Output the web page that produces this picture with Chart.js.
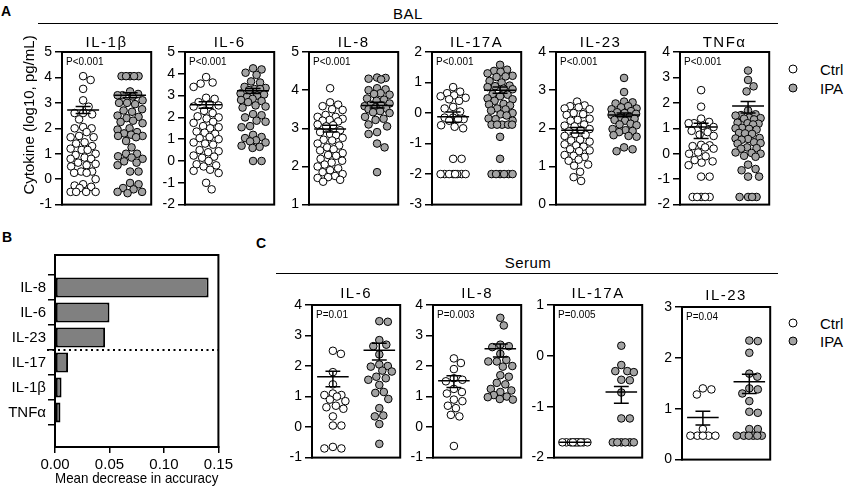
<!DOCTYPE html>
<html>
<head>
<meta charset="utf-8">
<script src="https://cdn.jsdelivr.net/npm/chart.js@4.4.1/dist/chart.umd.min.js"></script>
<style>
body { margin: 0; background: #fff; }
#fig { position: relative; width: 847px; height: 492px; overflow: hidden; font-family: 'Liberation Sans', Arial, sans-serif; color: #000; }
#fig canvas { position: absolute; }
.t { position: absolute; white-space: nowrap; line-height: 1; }
.hr { position: absolute; height: 0; border-top: 1.5px solid #000; }
.dot { position: absolute; width: 7px; height: 7px; border: 1px solid #000; border-radius: 50%; transform: translate(-50%, -50%); }
</style>
</head>
<body>
<div id="fig"></div>
<script>
// ---- A: BAL cytokines (log10 pg/mL) ----
const balNames = ['IL-1β', 'IL-6', 'IL-8', 'IL-17A', 'IL-23', 'TNFα'];
const balP = ['P<0.001', 'P<0.001', 'P<0.001', 'P<0.001', 'P<0.001', 'P<0.001'];
const balMin = [-1, -2, 1, -3, 0, -2];
const balMax = [5, 5, 5, 2, 4, 4];

const balIL1bCtrl = [4.05, 3.9, 3.55, 3.1, 2.85, 2.6, 2.6, 2.55, 2.35, 2.05, 2.0, 2.0, 1.85, 1.7, 1.65, 1.65, 1.45, 1.4, 1.3, 1.2, 1.15, 1.15, 1.0, 0.95, 0.85, 0.8, 0.8, 0.65, 0.6, 0.55, 0.5, 0.3, 0.3, 0.25, 0.25, 0.0, -0.2, -0.25, -0.3, -0.35, -0.5, -0.5, -0.5, -0.5];
const balIL1bIPA = [4.05, 4.05, 4.05, 4.05, 4.05, 3.45, 3.35, 3.3, 3.3, 3.25, 3.1, 3.0, 3.0, 2.95, 2.75, 2.7, 2.65, 2.5, 2.45, 2.4, 2.3, 2.25, 2.2, 2.0, 1.95, 1.85, 1.8, 1.75, 1.7, 1.7, 1.65, 1.5, 1.25, 1.0, 1.0, 0.9, 0.85, 0.8, 0.7, 0.65, 0.55, 0.3, 0.3, -0.15, -0.2, -0.35, -0.4, -0.5, -0.5, -0.55];
const balIL6Ctrl = [3.85, 3.6, 3.55, 3.4, 2.9, 2.85, 2.7, 2.6, 2.55, 2.5, 2.3, 2.2, 2.05, 2.0, 1.95, 1.8, 1.75, 1.6, 1.55, 1.5, 1.35, 1.3, 1.25, 1.1, 1.05, 1.0, 0.85, 0.8, 0.75, 0.5, 0.45, 0.4, 0.25, 0.2, 0.15, 0.0, -0.15, -0.2, -0.25, -0.4, -0.45, -0.55, -1.0, -1.3];
const balIL6IPA = [4.25, 4.2, 4.05, 3.95, 3.65, 3.6, 3.4, 3.35, 3.3, 3.3, 3.25, 3.1, 3.05, 3.0, 2.95, 2.85, 2.8, 2.75, 2.7, 2.55, 2.5, 2.45, 2.15, 2.1, 2.0, 1.85, 1.8, 1.6, 1.55, 1.2, 1.1, 1.05, 0.95, 0.9, 0.85, 0.7, 0.65, 0.6, 0.0, 0.0];
const balIL8Ctrl = [4.05, 3.68, 3.62, 3.58, 3.5, 3.48, 3.35, 3.3, 3.3, 3.25, 3.22, 3.2, 3.18, 3.1, 3.08, 3.05, 2.95, 2.9, 2.85, 2.82, 2.75, 2.7, 2.68, 2.6, 2.55, 2.5, 2.45, 2.42, 2.35, 2.3, 2.28, 2.2, 2.15, 2.1, 2.05, 2.0, 1.95, 1.9, 1.85, 1.8, 1.75, 1.72, 1.7, 1.65, 1.6];
const balIL8IPA = [4.33, 4.32, 4.3, 4.28, 4.05, 4.02, 4.0, 3.92, 3.9, 3.88, 3.78, 3.75, 3.72, 3.65, 3.62, 3.6, 3.58, 3.55, 3.52, 3.5, 3.45, 3.42, 3.4, 3.3, 3.25, 3.22, 3.1, 3.05, 2.9, 2.85, 2.6, 2.5, 1.85];
const balIL17Ctrl = [0.85, 0.7, 0.65, 0.58, 0.55, 0.5, 0.45, 0.4, 0.2, 0.15, 0.05, -0.15, -0.15, -0.2, -0.2, -0.25, -0.4, -0.45, -0.5, -1.5, -1.5, -2, -2, -2, -2, -2, -2, -2, -2];
const balIL17IPA = [1.58, 1.42, 1.38, 1.35, 1.3, 1.22, 1.2, 1.18, 1.05, 1.0, 0.9, 0.88, 0.85, 0.8, 0.78, 0.62, 0.6, 0.55, 0.48, 0.45, 0.4, 0.3, 0.28, 0.25, 0.15, 0.12, 0.08, 0.0, -0.04, -0.08, -0.18, -0.2, -0.25, -0.38, -0.38, -0.38, -0.38, -0.38, -0.78, -1.5, -2, -2, -2, -2, -2, -2];
const balIL23Ctrl = [2.7, 2.6, 2.58, 2.55, 2.52, 2.5, 2.4, 2.37, 2.35, 2.25, 2.22, 2.2, 2.1, 2.07, 2.05, 1.98, 1.95, 1.92, 1.85, 1.83, 1.8, 1.7, 1.68, 1.65, 1.58, 1.55, 1.52, 1.45, 1.42, 1.4, 1.3, 1.28, 1.25, 1.18, 1.15, 1.05, 1.02, 0.86, 0.72, 0.62];
const balIL23IPA = [3.32, 2.95, 2.7, 2.68, 2.65, 2.58, 2.55, 2.52, 2.5, 2.45, 2.42, 2.4, 2.38, 2.35, 2.3, 2.28, 2.25, 2.22, 2.2, 2.12, 2.1, 2.08, 1.98, 1.95, 1.93, 1.9, 1.82, 1.8, 1.78, 1.5, 1.45, 1.4];
const balTNFCtrl = [2.5, 1.85, 1.38, 1.25, 1.2, 1.2, 1.1, 1.05, 0.9, 0.85, 0.75, 0.7, 0.35, 0.33, 0.3, 0.25, 0.2, 0.05, 0.0, -0.1, -0.25, -0.3, -0.35, -0.45, -0.9, -0.9, -1.7, -1.7, -1.7, -1.7, -1.7];
const balTNFIPA = [3.27, 2.9, 2.65, 2.45, 1.7, 1.55, 1.52, 1.5, 1.42, 1.4, 1.38, 1.35, 1.22, 1.2, 1.18, 1.15, 1.02, 1.0, 0.98, 0.95, 0.82, 0.8, 0.78, 0.62, 0.6, 0.58, 0.55, 0.45, 0.42, 0.4, 0.25, 0.22, 0.2, 0.05, 0.03, 0.0, -0.08, -0.12, -0.43, -0.6, -0.65, -0.9, -0.9, -1.7, -1.7, -1.7, -1.7];

// mean and error bar ends (Ctrl, IPA)
const balMean = [[2.72, 3.3], [2.58, 3.22], [2.98, 3.6], [-0.12, 0.75], [1.95, 2.35], [1.05, 1.88]];
const balLow = [[2.58, 3.2], [2.42, 3.1], [2.9, 3.53], [-0.3, 0.65], [1.88, 2.3], [0.6, 1.6]];
const balHigh = [[2.86, 3.4], [2.72, 3.32], [3.08, 3.68], [0.03, 0.85], [2.02, 2.4], [1.2, 2.05]];

// ---- B: random forest importance ----
const featureNames = ['IL-8', 'IL-6', 'IL-23', 'IL-17', 'IL-1β', 'TNFα'];
const featureImportance = [0.141, 0.050, 0.046, 0.012, 0.006, 0.005];

// ---- C: Serum cytokines ----
const serNames = ['IL-6', 'IL-8', 'IL-17A', 'IL-23'];
const serP = ['P=0.01', 'P=0.003', 'P=0.005', 'P=0.04'];
const serMin = [-1, -1, -2, 0];
const serMax = [4, 4, 1, 3];

const serIL6Ctrl = [2.5, 2.4, 1.8, 1.4, 1.1, 1.05, 1.05, 1.0, 0.9, 0.85, 0.7, 0.65, 0.6, 0.35, 0.05, 0.05, -0.65, -0.7, -0.7];
const serIL6IPA = [3.47, 3.45, 2.85, 2.7, 2.65, 2.38, 2.05, 2.0, 1.98, 1.85, 1.82, 1.65, 1.6, 1.55, 1.38, 1.15, 1.12, 0.92, 0.62, 0.38, 0.35, 0.1, -0.55];
const serIL8Ctrl = [2.25, 2.1, 1.9, 1.6, 1.55, 1.5, 1.25, 1.15, 1.1, 0.9, 0.85, 0.7, 0.62, 0.4, 0.35, -0.62];
const serIL8IPA = [3.58, 3.33, 2.7, 2.65, 2.62, 2.4, 2.2, 2.15, 2.15, 2.0, 1.98, 1.7, 1.65, 1.45, 1.4, 1.25, 1.2, 1.15, 1.05, 1.0, 0.98, 0.92, 0.9];
const serIL17Ctrl = [-1.7, -1.7, -1.7, -1.7, -1.7, -1.7, -1.7, -1.7, -1.7, -1.7];
const serIL17IPA = [0.2, -0.18, -0.3, -0.3, -0.32, -0.48, -0.47, -0.72, -1.23, -1.23, -1.7, -1.7, -1.7, -1.7, -1.7, -1.7];
const serIL23Ctrl = [1.4, 1.38, 1.28, 0.6, 0.47, 0.47, 0.47, 0.47, 0.47];
const serIL23IPA = [2.34, 2.33, 2.1, 1.69, 1.63, 1.4, 1.38, 1.3, 1.15, 0.94, 0.92, 0.6, 0.6, 0.47, 0.47, 0.47, 0.47, 0.47, 0.47];

const serMean = [[1.65, 2.52], [1.52, 2.57], [-1.7, -0.71], [0.83, 1.53]];
const serLow = [[1.32, 2.2], [1.3, 2.3], [-1.7, -0.93], [0.68, 1.3]];
const serHigh = [[1.83, 2.75], [1.68, 2.72], [-1.7, -0.6], [0.95, 1.68]];

const balCtrl = [balIL1bCtrl, balIL6Ctrl, balIL8Ctrl, balIL17Ctrl, balIL23Ctrl, balTNFCtrl];
const balIPA = [balIL1bIPA, balIL6IPA, balIL8IPA, balIL17IPA, balIL23IPA, balTNFIPA];
const serCtrl = [serIL6Ctrl, serIL8Ctrl, serIL17Ctrl, serIL23Ctrl];
const serIPA = [serIL6IPA, serIL8IPA, serIL17IPA, serIL23IPA];

Chart.defaults.font.family = "'Liberation Sans', Arial, sans-serif";
Chart.defaults.color = '#000';
Chart.defaults.animation = false;
Chart.defaults.plugins.legend.display = false;
Chart.defaults.plugins.tooltip.enabled = false;

const FONT = "'Liberation Sans', Arial, sans-serif";
const fig = document.getElementById('fig');

function addCanvas(left, top, w, h) {
  const c = document.createElement('canvas');
  c.width = w; c.height = h;
  c.style.left = left + 'px'; c.style.top = top + 'px';
  c.style.width = w + 'px'; c.style.height = h + 'px';
  fig.appendChild(c);
  return c;
}

function text(str, x, y, size, extra) {
  const d = document.createElement('div');
  d.className = 't';
  d.textContent = str;
  d.style.cssText = `left:${x}px;top:${y}px;font-size:${size}px;` + (extra || 'transform:translate(-50%,-50%);');
  fig.appendChild(d);
}

function rule(x1, x2, y) {
  const d = document.createElement('div');
  d.className = 'hr';
  d.style.cssText = `left:${x1}px;top:${y}px;width:${x2 - x1}px;`;
  fig.appendChild(d);
}

function legend(x, y1, y2) {
  [[y1, '#fff', 'Ctrl'], [y2, '#a3a3a3', 'IPA']].forEach(([y, fill, label]) => {
    const d = document.createElement('div');
    d.className = 'dot';
    d.style.cssText = `left:${x}px;top:${y}px;background:${fill};`;
    fig.appendChild(d);
    text(label, x + 27, y, 15, 'transform:translate(0,-50%);');
  });
}

// frame, panel title, p value and y title
const panelDecor = {
  id: 'panelDecor',
  afterDraw(chart, args, o) {
    const { ctx, chartArea: a } = chart;
    ctx.save();
    ctx.strokeStyle = '#000';
    ctx.lineWidth = 2;
    ctx.strokeRect(a.left, a.top, a.right - a.left, a.bottom - a.top);
    ctx.fillStyle = '#000';
    ctx.textBaseline = 'middle';
    if (o.title) {
      ctx.font = '15px ' + FONT;
      ctx.letterSpacing = '1.5px';
      ctx.textAlign = 'center';
      ctx.fillText(o.title, (a.left + a.right) / 2, a.top - o.gap);
      ctx.letterSpacing = '0px';
    }
    if (o.p) {
      ctx.font = '10px ' + FONT;
      ctx.textAlign = 'left';
      ctx.fillText(o.p, a.left + 4, a.top + 10);
    }
    if (o.yTitle) {
      ctx.font = '15px ' + FONT;
      ctx.textAlign = 'center';
      ctx.translate(o.yx, o.yy);
      ctx.rotate(-Math.PI / 2);
      ctx.fillText(o.yTitle, 0, 0);
    }
    ctx.restore();
  }
};

const cutLine = {
  id: 'cutLine',
  afterDatasetsDraw(chart, args, o) {
    const { ctx, chartArea: a, scales: { y } } = chart;
    const py = y.getPixelForValue(o.at);
    ctx.save();
    ctx.setLineDash([2, 3.5]);
    ctx.lineWidth = 2;
    ctx.strokeStyle = '#000';
    ctx.beginPath();
    ctx.moveTo(o.from, py);
    ctx.lineTo(a.right, py);
    ctx.stroke();
    ctx.restore();
  }
};

// mean line + error bar with caps, in data units
function meanBar(c, m, lo, hi) {
  const w = 0.34, cw = 0.16;
  return [
    { x: c - w, y: m }, { x: c + w, y: m }, { x: c, y: null },
    { x: c, y: lo }, { x: c, y: hi }, { x: c, y: null },
    { x: c - cw, y: lo }, { x: c + cw, y: lo }, { x: c, y: null },
    { x: c - cw, y: hi }, { x: c + cw, y: hi }
  ];
}

// simple beeswarm in pixel space: nearest free spot to the centre, squeezed inside +-half
function beeswarm(py, d, half) {
  const order = py.map((_, i) => i).sort((a, b) => py[a] - py[b]);
  const placed = [];
  const off = [];
  order.forEach(i => {
    let best = 0, bestScore = -1;
    for (let k = 0; ; k++) {
      const c = (k % 2 ? 1 : -1) * Math.ceil(k / 2) * 0.5;
      if (Math.abs(c) > half) break;
      let m = Infinity;
      placed.forEach(p => {
        const dd = Math.hypot(p[0] - c, p[1] - py[i]);
        if (dd < m) m = dd;
      });
      if (m >= d) { best = c; break; }
      if (m > bestScore + 0.01) { bestScore = m; best = c; }
    }
    off[i] = best;
    placed.push([best, py[i]]);
  });
  return off;
}

function yAxis(min, max, axisW) {
  return {
    min: min, max: max,
    ticks: { stepSize: 1, font: { size: 14 }, padding: 3 },
    grid: { drawOnChartArea: false, color: '#000', lineWidth: 1.5, tickLength: 7 },
    border: { color: '#000', width: 2 },
    afterFit: s => { s.width = axisW; }
  };
}

function swarmPanel(p) {
  const padTop = 22, padBottom = 10, padRight = 4;
  const cLeft = p.left - p.axisW, cTop = p.top - padTop;
  const cv = addCanvas(cLeft, cTop, p.axisW + p.w + padRight, padTop + p.h + padBottom);
  const pt = { pointRadius: 3.8, borderWidth: 1, borderColor: '#000', pointHoverRadius: 3.8 };
  const ln = { showLine: true, borderColor: '#000', borderWidth: 1.5, pointRadius: 0, spanGaps: false };
  const chart = new Chart(cv, {
    type: 'scatter',
    data: {
      datasets: [
        Object.assign({ data: meanBar(1, p.mean[0], p.low[0], p.high[0]) }, ln),
        Object.assign({ data: meanBar(2, p.mean[1], p.low[1], p.high[1]) }, ln),
        Object.assign({ label: 'Ctrl', data: p.ctrl.map(v => ({ x: 1, y: v })), backgroundColor: '#fff' }, pt),
        Object.assign({ label: 'IPA', data: p.ipa.map(v => ({ x: 2, y: v })), backgroundColor: '#a3a3a3' }, pt)
      ]
    },
    options: {
      responsive: false,
      devicePixelRatio: 1,
      layout: { padding: { top: padTop, bottom: padBottom, right: padRight, left: 0 } },
      scales: {
        x: { type: 'linear', min: 0.55, max: 2.45, display: false },
        y: yAxis(p.min, p.max, p.axisW)
      },
      plugins: {
        panelDecor: {
          title: p.name, gap: p.gap, p: p.pText,
          yTitle: p.yTitle || '', yx: 30 - cLeft, yy: p.yTitleY - cTop
        }
      }
    },
    plugins: [panelDecor]
  });
  const xs = chart.scales.x, ys = chart.scales.y;
  const pxX = xs.getPixelForValue(1) - xs.getPixelForValue(0);
  [[2, p.ctrl, 1], [3, p.ipa, 2]].forEach(([di, vals, c]) => {
    const offs = beeswarm(vals.map(v => ys.getPixelForValue(v)), 8.3, 12.5);
    chart.data.datasets[di].data = vals.map((v, i) => ({ x: c + offs[i] / pxX, y: v }));
  });
  chart.update('none');
}

// ---- headings ----
text('A', 6, 11, 14, 'transform:translate(-50%,-50%);font-weight:bold;');
text('B', 7, 237, 14, 'transform:translate(-50%,-50%);font-weight:bold;');
text('C', 261, 243, 14, 'transform:translate(-50%,-50%);font-weight:bold;');
text('BAL', 408, 13, 15, 'transform:translate(-50%,-50%);letter-spacing:0.5px;');
rule(38, 778, 23);
text('Serum', 528, 262, 15, 'transform:translate(-50%,-50%);letter-spacing:0.5px;');
rule(276, 778, 273);
legend(793, 69, 88);
legend(793, 323, 341);

// ---- A panels ----
const balLefts = [62, 185, 309, 432, 556, 680];
balNames.forEach((name, i) => {
  swarmPanel({
    left: balLefts[i], top: 52, w: 90, h: 154, axisW: i === 0 ? 62 : 40, gap: 9,
    name: name, pText: balP[i], min: balMin[i], max: balMax[i],
    ctrl: balCtrl[i], ipa: balIPA[i], mean: balMean[i], low: balLow[i], high: balHigh[i],
    yTitle: i === 0 ? 'Cytokine (log10, pg/mL)' : '', yTitleY: 115
  });
});

// ---- C panels ----
const serLefts = [312, 433, 554, 682];
const serTops = [305, 305, 305, 307];
serNames.forEach((name, i) => {
  swarmPanel({
    left: serLefts[i], top: serTops[i], w: 89, h: 154, axisW: i === 0 ? 50 : 40, gap: 11,
    name: name, pText: serP[i], min: serMin[i], max: serMax[i],
    ctrl: serCtrl[i], ipa: serIPA[i], mean: serMean[i], low: serLow[i], high: serHigh[i],
    yTitle: i === 0 ? 'Cytokine (log10, pg/mL)' : '', yTitleY: 379
  });
});

// ---- B: importance bars ----
const cvB = addCanvas(0, 235, 236, 257);
new Chart(cvB, {
  type: 'bar',
  data: {
    labels: featureNames,
    datasets: [{
      data: featureImportance.map((v, i) => ({ x: v, y: i })),
      backgroundColor: '#808080',
      borderColor: '#000',
      borderWidth: 2,
      borderSkipped: false,
      categoryPercentage: 0.8,
      barPercentage: 1
    }]
  },
  options: {
    indexAxis: 'y',
    responsive: false,
    devicePixelRatio: 1,
    layout: { padding: { top: 20, right: 14, left: 0, bottom: 0 } },
    scales: {
      x: {
        type: 'linear', min: 0, max: 0.15,
        ticks: { stepSize: 0.05, callback: v => v.toFixed(2), font: { size: 15 }, padding: 3, maxRotation: 0 },
        grid: { drawOnChartArea: false, color: '#000', lineWidth: 1.5, tickLength: 6 },
        border: { color: '#000', width: 2 },
        title: { display: true, text: 'Mean decrease in accuracy', font: { size: 15 }, padding: { top: 0, bottom: 4 } },
        afterFit: s => { s.height = 45; }
      },
      y: {
        type: 'linear', reverse: true, min: -0.66, max: 5.74,
        ticks: { stepSize: 1, includeBounds: false, callback: v => featureNames[v] ?? '', font: { size: 15 }, padding: 2 },
        grid: { drawOnChartArea: false, color: '#000', lineWidth: 1.5, tickLength: 7 },
        border: { color: '#000', width: 2 },
        afterFit: s => { s.width = 55; }
      }
    },
    plugins: {
      panelDecor: {},
      cutLine: { at: 2.5, from: 47 }
    }
  },
  plugins: [panelDecor, cutLine]
});
</script>
</body>
</html>
